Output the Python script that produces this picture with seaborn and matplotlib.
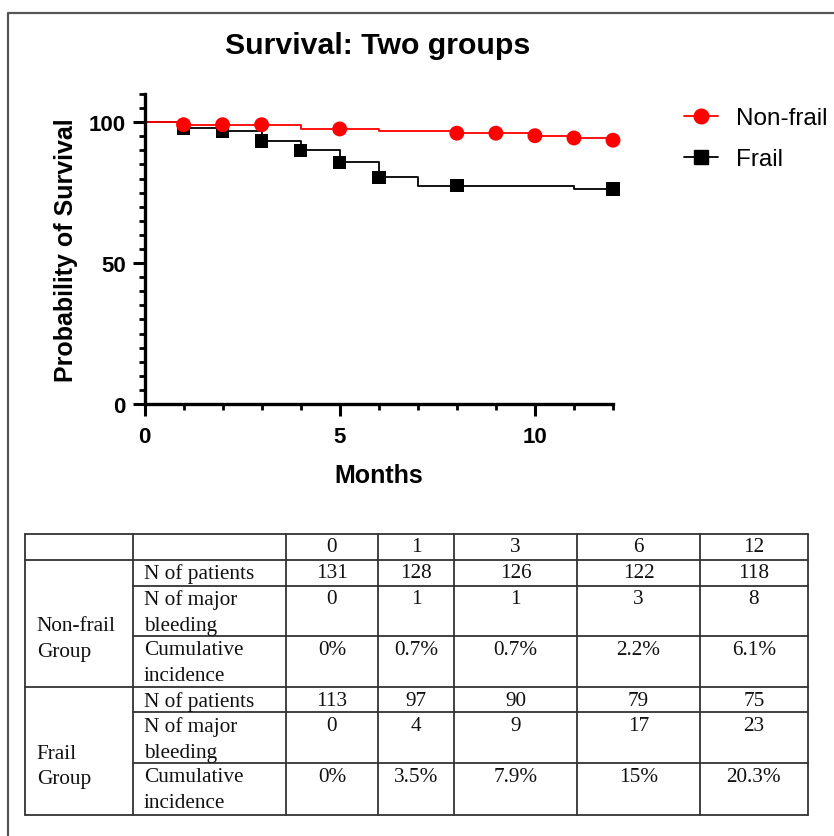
import numpy as np
import pandas as pd
import matplotlib
matplotlib.use("Agg")
import matplotlib.pyplot as plt
from matplotlib.lines import Line2D
import seaborn as sns

# survival curves
nf_time = [0, 1, 4, 6, 8, 10, 11, 12]
nf_surv = [100, 99.1, 97.6, 96.7, 96.1, 95.2, 94.4, 93.6]
nf_mark_t = [1, 2, 3, 5, 8, 9, 10, 11, 12]
nf_mark_s = [99.1, 99.1, 99.1, 97.6, 96.1, 96.1, 95.2, 94.4, 93.6]

fr_time = [0, 1, 2, 3, 4, 5, 6, 7, 11, 12]
fr_surv = [100, 97.9, 96.7, 93.3, 90.0, 85.7, 80.4, 77.5, 76.3, 76.3]
fr_mark_t = [1, 2, 3, 4, 5, 6, 8, 12]
fr_mark_s = [97.9, 96.7, 93.3, 90.0, 85.7, 80.4, 77.5, 76.3]

# table below the chart
time_points = ["0", "1", "3", "6", "12"]
row_labels = ["N of patients", "N of major\nbleeding", "Cumulative\nincidence"]
group_labels = ["Non-frail\nGroup", "Frail\nGroup"]
nonfrail_patients = ["131", "128", "126", "122", "118"]
nonfrail_bleeding = ["0", "1", "1", "3", "8"]
nonfrail_incidence = ["0%", "0.7%", "0.7%", "2.2%", "6.1%"]
frail_patients = ["113", "97", "90", "79", "75"]
frail_bleeding = ["0", "4", "9", "17", "23"]
frail_incidence = ["0%", "3.5%", "7.9%", "15%", "20.3%"]

sns.set_style("ticks", {"axes.edgecolor": "black", "xtick.color": "black",
                        "ytick.color": "black", "text.color": "black",
                        "axes.labelcolor": "black"})
plt.rcParams['font.family'] = ['Liberation Sans', 'DejaVu Sans']

W, H = 834, 837
fig = plt.figure(figsize=(W / 100, H / 100), dpi=100)

# --- survival plot ---
ax = fig.add_axes([144.5 / W, 1 - 405 / H, (613 - 144.5) / W, 310 / H])

sns.lineplot(x=fr_time, y=fr_surv, drawstyle='steps-post', color='black', lw=1.3, ax=ax)
sns.scatterplot(x=fr_mark_t, y=fr_mark_s, marker='s', s=95, color='black', edgecolor='none', ax=ax, clip_on=False)
sns.lineplot(x=nf_time, y=nf_surv, drawstyle='steps-post', color='red', lw=1.3, ax=ax)
sns.scatterplot(x=nf_mark_t, y=nf_mark_s, marker='o', s=115, color='red', edgecolor='none', ax=ax, clip_on=False, zorder=5)

ax.set_xlim(0, 12)
ax.set_ylim(0, 110)
ax.set_xticks([0, 5, 10])
ax.set_xticks(np.arange(0, 13, 1), minor=True)
ax.set_yticks([0, 50, 100])
ax.set_yticks(np.arange(0, 111, 5), minor=True)
sns.despine(ax=ax)
for sp in ['left', 'bottom']:
    ax.spines[sp].set_linewidth(2.4)
ax.tick_params(which='major', length=8.5, width=2.2, labelsize=16, pad=5, colors='black')
ax.tick_params(which='minor', length=4.5, width=2.0, colors='black')
ax.tick_params(axis='x', which='major', pad=7)
for lab in ax.get_xticklabels() + ax.get_yticklabels():
    lab.set_fontweight('bold')

ax.set_xlabel("Months", fontsize=18, fontweight='bold', color='black')
ax.set_ylabel("Probability of Survival", fontsize=18, fontweight='bold', color='black')
ax.xaxis.set_label_coords(0.5, -0.19)
ax.yaxis.set_label_coords(-0.143, 0.5)

fig.text(377.5 / W, 1 - 46 / H, "Survival: Two groups", fontsize=21.8, fontweight='bold',
         ha='center', va='center', color='black')

handles = [Line2D([], [], color='red', marker='o', markersize=10.5, lw=1.3),
           Line2D([], [], color='black', marker='s', markersize=9.5, lw=1.3)]
fig.legend(handles, ["Non-frail", "Frail"], loc='upper left',
           bbox_to_anchor=(684 / W, 1 - 108 / H), frameon=False, fontsize=17.5,
           handlelength=1.4, handletextpad=0.75, labelspacing=0.8, borderpad=0, borderaxespad=0)

# --- table and border, drawn in pixel coordinates ---
ov = fig.add_axes([0, 0, 1, 1], zorder=-1)
ov.set_xlim(0, W)
ov.set_ylim(H, 0)
ov.axis('off')

ov.plot([8.5, 8.5, W], [H, 13.5, 13.5], color='#555555', lw=1.6)

cols = [24.7, 132.7, 286, 378, 454.3, 577, 700, 807.7]
rows = [534.7, 560.7, 586.7, 637.3, 688.3, 713.3, 764.3, 815.7]
lc = '#333333'
for x in cols:
    ov.plot([x, x], [rows[0], rows[-1]], color=lc, lw=1.3)
for i, y in enumerate(rows):
    x0 = cols[0] if i in (0, 1, 4, 7) else cols[1]
    ov.plot([x0, cols[-1]], [y, y], color=lc, lw=1.3)

tfont = dict(family=['Liberation Serif', 'DejaVu Serif'], fontsize=15.3, color='#111111')
pad = 3.5
for j, t in enumerate(time_points):
    ov.text((cols[j + 2] + cols[j + 3]) / 2, rows[0] + pad, t, ha='center', va='top', **tfont)

group_vals = [[nonfrail_patients, nonfrail_bleeding, nonfrail_incidence],
              [frail_patients, frail_bleeding, frail_incidence]]
for g in range(2):
    r0 = 1 + g * 3
    yc = (rows[r0] + rows[r0 + 3]) / 2 + 15
    ov.text(cols[0] + 12, yc, group_labels[g], ha='left', va='center', linespacing=1.45, **tfont)
    for k in range(3):
        top = rows[r0 + k] + pad
        ov.text(cols[1] + 11, top, row_labels[k], ha='left', va='top', linespacing=1.5, **tfont)
        for j, v in enumerate(group_vals[g][k]):
            ov.text((cols[j + 2] + cols[j + 3]) / 2, top, v, ha='center', va='top', **tfont)

fig.savefig("out.png", dpi=100)
